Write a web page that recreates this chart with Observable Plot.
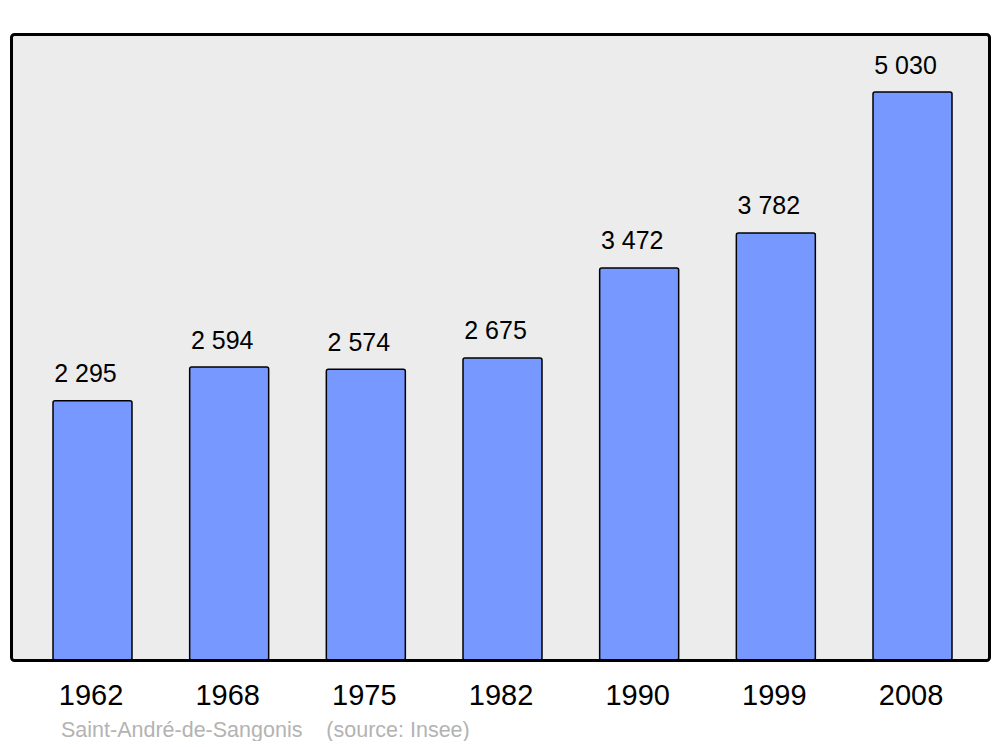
<!DOCTYPE html>
<html>
<head>
<meta charset="utf-8">
<script src="https://cdn.jsdelivr.net/npm/d3@7"></script>
<script src="https://cdn.jsdelivr.net/npm/@observablehq/plot@0.6"></script>
<style>
  body { margin: 0; background: #ffffff; font-family: "Liberation Sans", Arial, sans-serif; }
  #caption { font-size: 21.5px; line-height: 21px; color: #b3b3b3; padding-top: 8px; margin-left: 61px; white-space: pre; }
</style>
</head>
<body>
<div id="chart"></div>
<div id="caption">Saint-André-de-Sangonis    (source: Insee)</div>
<script>
const years = ["1962", "1968", "1975", "1982", "1990", "1999", "2008"];
const population = [2295, 2594, 2574, 2675, 3472, 3782, 5030];

const data = years.map((y, i) => ({year: y, pop: population[i]}));
const fmt = v => d3.format(",")(v).replace(/,/g, " ");

const chart = Plot.plot({
  width: 1000,
  height: 712,
  marginTop: 34,
  marginBottom: 52,
  marginLeft: 11,
  marginRight: 11,
  style: {fontFamily: "Liberation Sans, Arial, sans-serif", background: "transparent"},
  x: {domain: years, range: [53, 952], paddingInner: 0.422, paddingOuter: 0, round: false, label: null},
  y: {domain: [0, 5544], axis: null},
  marks: [
    Plot.frame({fill: "#ececec", stroke: "none", rx: 3}),
    Plot.barY(data, {x: "year", y: "pop", fill: "#7799ff", stroke: "#000", strokeWidth: 1.5, rx: 2}),
    Plot.frame({stroke: "#000", strokeWidth: 3, rx: 3}),
    Plot.text(data, {x: "year", y: "pop", text: d => fmt(d.pop), dy: -19, dx: -7.5, lineAnchor: "bottom", fontSize: 25, fill: "#000"}),
    Plot.axisX({tickSize: 0, tickPadding: 24, dx: -2, fontSize: 29, label: null, color: "#000"})
  ]
});
document.getElementById("chart").appendChild(chart);
</script>
</body>
</html>
